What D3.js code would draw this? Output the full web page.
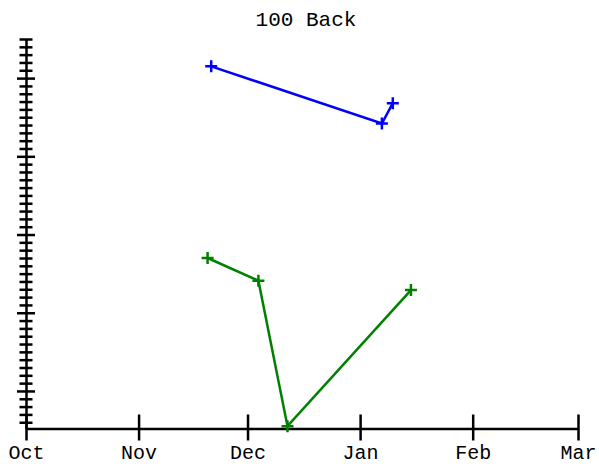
<!DOCTYPE html>
<html>
<head>
<meta charset="utf-8">
<script src="https://cdn.jsdelivr.net/npm/d3@7"></script>
<style>
  html, body { margin: 0; padding: 0; background: #fff; }
  text { font-family: "Liberation Mono", "Courier New", Courier, monospace; }
</style>
</head>
<body>
<svg id="chart" width="599" height="464"></svg>
<script>
const title = "100 Back";
const monthTicks = ["2015-10-01", "2015-11-01", "2015-12-01", "2016-01-01", "2016-02-01", "2016-03-01"];
const monthLabels = ["Oct", "Nov", "Dec", "Jan", "Feb", "Mar"];

const blueDates = ["2015-11-21", "2016-01-07", "2016-01-10"];
const blueValues = [51.5, 44.2, 46.8];

const greenDates = ["2015-11-20", "2015-12-04", "2015-12-12", "2016-01-15"];
const greenValues = [27.0, 24.1, 5.5, 22.9];

const yMin = 5.2, yMax = 55;

const parse = d3.timeParse("%Y-%m-%d");
const svg = d3.select("#chart");

const x = d3.scaleTime()
  .domain([parse(monthTicks[0]), parse(monthTicks[monthTicks.length - 1])])
  .range([26, 578]);
const y = d3.scaleLinear().domain([yMin, yMax]).range([428.5, 39]);

// Title
svg.append("text")
  .attr("x", 306).attr("y", 26)
  .attr("text-anchor", "middle")
  .attr("font-size", 21)
  .attr("fill", "#000")
  .text(title);

// Y axis
const yTicks = d3.range(Math.ceil(yMin), Math.floor(yMax) + 1);
const yAxis = d3.axisLeft(y).tickValues(yTicks).tickFormat("").tickSizeOuter(0).tickSizeInner(0);
const gy = svg.append("g").attr("transform", "translate(26,0)").call(yAxis);
gy.select(".domain").attr("stroke", "#000").attr("stroke-width", 2.5);
gy.selectAll(".tick line").each(function(d) {
  const major = d % 10 === 0;
  const l = major ? 9 : 6.5;
  d3.select(this).attr("x1", -l).attr("x2", l).attr("stroke", "#000").attr("stroke-width", 2.5);
});

// X axis
const xAxis = d3.axisBottom(x)
  .tickValues(monthTicks.map(parse))
  .tickFormat((d, i) => monthLabels[i])
  .tickSizeOuter(0).tickSizeInner(0);
const gx = svg.append("g").attr("transform", "translate(0,428.5)").call(xAxis);
gx.select(".domain").attr("stroke", "#000").attr("stroke-width", 2.5);
gx.selectAll(".tick line").attr("y1", -14).attr("y2", 12).attr("stroke", "#000").attr("stroke-width", 2.5);
gx.selectAll(".tick text")
  .attr("y", 0).attr("dy", 0)
  .attr("transform", "translate(0,30)")
  .attr("font-size", 20)
  .attr("font-family", "Liberation Mono, Courier New, monospace")
  .attr("fill", "#000");

// Series
const line = d3.line().x(d => x(d.date)).y(d => y(d.value));
function drawSeries(dates, values, color) {
  const data = dates.map((s, i) => ({ date: parse(s), value: values[i] }));
  svg.append("path").datum(data)
    .attr("d", line)
    .attr("fill", "none")
    .attr("stroke", color)
    .attr("stroke-width", 2.5);
  const g = svg.append("g");
  const s = 6;
  data.forEach(d => {
    const cx = x(d.date), cy = y(d.value);
    g.append("path")
      .attr("d", `M${cx - s},${cy}H${cx + s}M${cx},${cy - s}V${cy + s}`)
      .attr("stroke", color)
      .attr("stroke-width", 2.5)
      .attr("fill", "none");
  });
}
drawSeries(blueDates, blueValues, "#0000ff");
drawSeries(greenDates, greenValues, "#008000");
</script>
</body>
</html>
